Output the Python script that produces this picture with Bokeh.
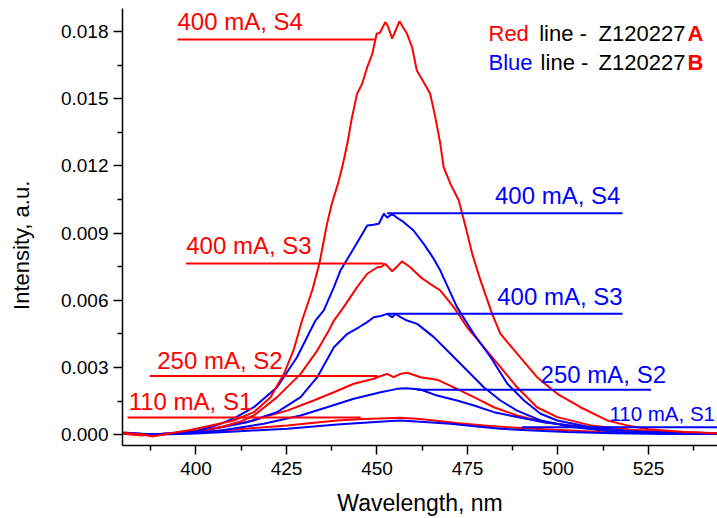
from bokeh.plotting import figure
from bokeh.models import Range1d, FixedTicker, Label, PrintfTickFormatter
from bokeh.embed import file_html
from bokeh.resources import INLINE

# ---------------- data ----------------
# Red lines: sample Z120227A
red_s4_wl = [380, 385, 388, 393, 398, 402, 406, 410.4, 416, 420.6, 424.3, 427, 429.3, 432.1, 434.1,
             436.2, 437.5, 439.2, 440.4, 441.8, 443.1, 444.5, 445.9, 447.3, 448.7, 449.9, 450.8, 452.3,
             453.0, 454.2, 456.2, 458.3, 459.7, 461, 462.9, 464.7, 466.1, 467.5, 468.4, 470.3, 472.6,
             474.5, 476.3, 478.6, 481.8, 484.1, 488.7, 494.2, 499.8, 506.2, 513.6, 519.1, 525, 535, 545]
red_s4_int = [0.00008, 0.00002, -0.00008, 0.00007, 0.0002, 0.00034, 0.00048, 0.00064, 0.00101, 0.00168,
              0.00272, 0.0038, 0.0051, 0.00644, 0.00765, 0.00942, 0.0103, 0.0112, 0.01195, 0.01299,
              0.01418, 0.01522, 0.01567, 0.01641, 0.017, 0.0179, 0.01795, 0.01842, 0.01825, 0.01768,
              0.01846, 0.0179, 0.0173, 0.01626, 0.01574, 0.01522, 0.01418, 0.01299, 0.01195, 0.0112,
              0.01046, 0.00927, 0.00808, 0.00689, 0.0054, 0.00451, 0.00362, 0.00257, 0.00183, 0.00123,
              0.00064, 0.00042, 0.00025, 0.00012, 0.00006]

red_s3_wl = [380, 385, 390, 395, 400, 406.8, 412, 416, 422.4, 428.9, 433.5, 436.7, 438.1, 440.8, 444.5,
             447.3, 450.1, 451.2, 452.3, 454.2, 455.5, 456.9, 459.2, 462, 465, 467.5, 471.2, 474.9,
             479.5, 484.1, 488.7, 494.2, 499.8, 509, 520, 530, 545]
red_s3_int = [0.00005, -0.00003, 0.00002, 0.0001, 0.00018, 0.00034, 0.00058, 0.00086, 0.00168, 0.00272,
              0.00376, 0.00466, 0.0051, 0.0057, 0.00659, 0.00719, 0.00748, 0.0075, 0.00763, 0.0073,
              0.0075, 0.00774, 0.00748, 0.00704, 0.0067, 0.00644, 0.0057, 0.0048, 0.00391, 0.00302,
              0.00212, 0.00123, 0.00079, 0.00042, 0.00022, 0.00012, 0.00005]

red_s2_wl = [380, 385, 390, 395, 400, 406.8, 411, 416, 420, 425.2, 432.5, 438.1, 443.6, 449.1, 451.5,
             452.8, 454.6, 456.5, 458.3, 460, 462, 466.6, 471.2, 476.8, 482.3, 488.7, 496.1, 507.2,
             521, 535, 545]
red_s2_int = [0.00006, 0.0, 0.00003, 0.00008, 0.00016, 0.00034, 0.00048, 0.00064, 0.00085, 0.00108,
              0.00153, 0.0019, 0.00228, 0.0025, 0.00265, 0.00272, 0.00257, 0.00272, 0.00277, 0.00268,
              0.00257, 0.00246, 0.00212, 0.00168, 0.00123, 0.00086, 0.00056, 0.00034, 0.00019,
              0.0001, 0.00006]

red_s1_wl = [380, 390, 400, 410, 418, 425.2, 432, 439, 446, 452.8, 456.5, 462, 465.7, 472, 479.5,
             486, 493.3, 502, 511.7, 525, 545]
red_s1_int = [0.00004, 0.00002, 0.0001, 0.00022, 0.00033, 0.00042, 0.00053, 0.00064, 0.0007, 0.00074,
              0.00076, 0.00071, 0.00064, 0.00053, 0.00042, 0.00034, 0.00027, 0.0002, 0.00012,
              0.00008, 0.00004]

# Blue lines: sample Z120227B
blue_s4_wl = [380, 385, 390, 395, 400, 406.8, 411, 416, 422.4, 427.9, 433, 435.3, 438.1, 439.9, 442.7,
              445.4, 447.3, 449, 450.5, 451.9, 452.8, 454.2, 455.5, 457.4, 460.1, 463, 465.5, 467.5,
              472.1, 476.7, 481.4, 486, 490.6, 495.2, 499.8, 509, 520, 530, 545]
blue_s4_int = [0.0001, 0.00005, 0.00004, 0.00008, 0.00015, 0.00049, 0.00078, 0.00123, 0.00212, 0.00346,
               0.0051, 0.00555, 0.00659, 0.00733, 0.00808, 0.00882, 0.00934, 0.00938, 0.00942,
               0.00987, 0.00969, 0.00987, 0.00969, 0.00949, 0.00912, 0.0085, 0.0079, 0.00733, 0.0057,
               0.00451, 0.00346, 0.00228, 0.00153, 0.00094, 0.00064, 0.00034, 0.00016, 0.0001, 0.00005]

blue_s3_wl = [380, 385, 390, 395, 400, 404.9, 414.1, 422.4, 428.9, 433.5, 438.1, 441.8, 445, 447.3,
              449.1, 451, 452.8, 454.2, 455.1, 456.5, 458.3, 461.1, 465.7, 470.3, 474.9, 479.5, 484.1,
              488.7, 495.2, 504.4, 516.4, 530, 545]
blue_s3_int = [0.00008, 0.00004, 0.00003, 0.00007, 0.00013, 0.00027, 0.00056, 0.00101, 0.00168, 0.00257,
               0.00391, 0.00451, 0.0048, 0.00503, 0.00525, 0.0053, 0.0054, 0.00525, 0.0054, 0.00525,
               0.0051, 0.00495, 0.00436, 0.00362, 0.00287, 0.00212, 0.00153, 0.00108, 0.00064,
               0.00034, 0.00012, 0.00006, 0.00003]

blue_s2_wl = [380, 390, 400, 406.8, 418.7, 428.9, 436.2, 443.6, 451, 455.6, 458, 462, 466.6, 472.1,
              476.8, 482.3, 488.7, 496.1, 507.2, 520, 535, 545]
blue_s2_int = [0.00006, 0.00002, 0.00008, 0.00019, 0.00049, 0.00086, 0.00123, 0.00161, 0.0019, 0.00205,
               0.00208, 0.00202, 0.00175, 0.00153, 0.00131, 0.00101, 0.00079, 0.00056, 0.00034,
               0.00018, 0.0001, 0.00006]

blue_s1_wl = [380, 390, 400, 412, 425.2, 439, 452.8, 456.5, 463, 470.3, 477, 484.1, 493, 502.5, 515,
              530, 545]
blue_s1_int = [0.00005, 0.00001, 0.00006, 0.00016, 0.00027, 0.00046, 0.00061, 0.00064, 0.00057, 0.00049,
               0.00038, 0.00027, 0.00019, 0.00012, 0.00007, 0.00004, 0.00003]

# Annotation marker lines (level, start, end) and their texts
red_labels = ["400 mA, S4", "400 mA, S3", "250 mA, S2", "110 mA, S1"]
red_levels = [0.01765, 0.00765, 0.00262, 0.00077]
red_x0 = [394.9, 397.2, 387.2, 381.1]
red_x1 = [449.4, 451.8, 450.1, 445.5]
red_text_x = [394.9, 397.3, 389.3, 381.4]

blue_labels = ["400 mA, S4", "400 mA, S3", "250 mA, S2", "110 mA, S1"]
blue_levels = [0.00989, 0.0054, 0.00201, 0.00034]
blue_x0 = [452.8, 452.8, 461.0, 490.0]
blue_x1 = [517.8, 517.8, 525.7, 545.0]
blue_text_x = [482.6, 483.2, 495.2, 514.2]

x_ticks = [400, 425, 450, 475, 500, 525]
x_minor = [387.5, 412.5, 437.5, 462.5, 487.5, 512.5, 537.5]
y_ticks = [0.0, 0.003, 0.006, 0.009, 0.012, 0.015, 0.018]
y_minor = [0.0015, 0.0045, 0.0075, 0.0105, 0.0135, 0.0165]

x_title = "Wavelength, nm"
y_title = "Intensity, a.u."

# ---------------- styling / layout ----------------
RED = "#ff0000"
BLUE = "#0000ff"
FONT = "Liberation Sans"

red_label_off = [17.5, 17.5, 15.7, 16.0]
blue_label_off = [17.5, 17.1, 15.1, 13.7]
red_label_size = ["24px", "24px", "24px", "24px"]
blue_label_size = ["24px", "24px", "24px", "20.5px"]

p = figure(width=717, height=518, output_backend="svg", toolbar_location=None,
           x_range=Range1d(379.7, 544.06), y_range=Range1d(-0.000478, 0.01903),
           min_border_left=122, min_border_right=0, min_border_top=8, min_border_bottom=73)
p.outline_line_color = None
p.xgrid.visible = False
p.ygrid.visible = False
p.background_fill_color = "white"
p.border_fill_color = "white"

for ax in (p.xaxis[0], p.yaxis[0]):
    ax.axis_line_color = "black"
    ax.axis_line_width = 1.5
    ax.major_tick_line_color = "black"
    ax.minor_tick_line_color = "black"
    ax.major_tick_line_width = 1.5
    ax.minor_tick_line_width = 1.5
    ax.major_tick_in = 0
    ax.major_tick_out = 9
    ax.minor_tick_in = 0
    ax.minor_tick_out = 5
    ax.major_label_text_font = FONT
    ax.major_label_text_font_size = "19px"
    ax.major_label_text_color = "black"
    ax.axis_label_text_font = FONT
    ax.axis_label_text_font_style = "normal"
    ax.axis_label_text_color = "black"

p.xaxis.ticker = FixedTicker(ticks=x_ticks, minor_ticks=x_minor)
p.yaxis.ticker = FixedTicker(ticks=y_ticks, minor_ticks=y_minor)
p.yaxis.formatter = PrintfTickFormatter(format="%.3f")
p.xaxis.axis_label = x_title
p.xaxis.axis_label_text_font_size = "23px"
p.xaxis.major_label_standoff = 7
p.xaxis.axis_label_standoff = 12
# trailing no-break spaces push the rotated title a little below the frame centre
p.yaxis.axis_label = y_title + "\u00a0" * 6
p.yaxis.axis_label_text_font_size = "22px"
p.yaxis.major_label_standoff = 5
p.yaxis.axis_label_standoff = 24

curves = [
    (red_s1_wl, red_s1_int, RED), (blue_s1_wl, blue_s1_int, BLUE),
    (red_s2_wl, red_s2_int, RED), (blue_s2_wl, blue_s2_int, BLUE),
    (blue_s3_wl, blue_s3_int, BLUE), (red_s3_wl, red_s3_int, RED),
    (blue_s4_wl, blue_s4_int, BLUE), (red_s4_wl, red_s4_int, RED),
]
for xs, ys, c in curves:
    p.line(xs, ys, line_color=c, line_width=2)

p.segment(x0=red_x0, y0=red_levels, x1=red_x1, y1=red_levels, line_color=RED, line_width=2)
p.segment(x0=blue_x0, y0=blue_levels, x1=blue_x1, y1=blue_levels, line_color=BLUE, line_width=2)

for t, x, y, off, fs in zip(red_labels, red_text_x, red_levels, red_label_off, red_label_size):
    p.add_layout(Label(x=x, y=y, text=t, y_offset=off, text_color=RED, text_font=FONT,
                       text_font_size=fs, text_baseline="middle", text_align="left"))
for t, x, y, off, fs in zip(blue_labels, blue_text_x, blue_levels, blue_label_off, blue_label_size):
    p.add_layout(Label(x=x, y=y, text=t, y_offset=off, text_color=BLUE, text_font=FONT,
                       text_font_size=fs, text_baseline="middle", text_align="left"))

# legend-like header text (positions in data units)
legend_rows = [
    [("Red", RED, "normal", 480.8), ("line -", "black", "normal", 494.8),
     ("Z120227", "black", "normal", 511.2), ("A", RED, "bold", 535.8)],
    [("Blue", BLUE, "normal", 480.8), ("line -", "black", "normal", 495.2),
     ("Z120227", "black", "normal", 511.2), ("B", RED, "bold", 535.8)],
]
legend_y = [0.01793, 0.01663]
for row, ly in zip(legend_rows, legend_y):
    for txt, col, style, lx in row:
        p.add_layout(Label(x=lx, y=ly, text=txt, text_color=col, text_font=FONT,
                           text_font_style=style, text_font_size="22px",
                           text_baseline="middle", text_align="left"))

open("out.html", "w").write(file_html(p, INLINE))
